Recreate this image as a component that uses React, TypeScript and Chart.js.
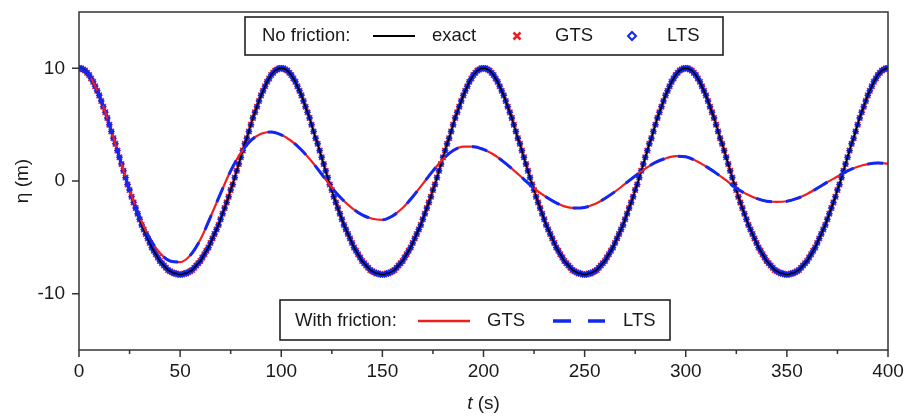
import React, { useEffect, useRef } from "react";
import { Chart, registerables } from "chart.js";

Chart.register(...registerables);

const FONT = "'Liberation Sans', Arial, Helvetica, sans-serif";
const RED = "#f01e1e";
const BLUE = "#1028f2";
const INK = "#1a1a1a";
const AXIS = "#333333";

// time (s) for the no-friction solution (exact line, GTS and LTS markers)
const timeExact = [
  0, 1, 2, 3, 4, 5, 6, 7, 8, 9, 10, 11, 12, 13, 14, 15, 16, 17, 18, 19,
  20, 21, 22, 23, 24, 25, 26, 27, 28, 29, 30, 31, 32, 33, 34, 35, 36, 37, 38, 39,
  40, 41, 42, 43, 44, 45, 46, 47, 48, 49, 50, 51, 52, 53, 54, 55, 56, 57, 58, 59,
  60, 61, 62, 63, 64, 65, 66, 67, 68, 69, 70, 71, 72, 73, 74, 75, 76, 77, 78, 79,
  80, 81, 82, 83, 84, 85, 86, 87, 88, 89, 90, 91, 92, 93, 94, 95, 96, 97, 98, 99,
  100, 101, 102, 103, 104, 105, 106, 107, 108, 109, 110, 111, 112, 113, 114, 115, 116, 117, 118, 119,
  120, 121, 122, 123, 124, 125, 126, 127, 128, 129, 130, 131, 132, 133, 134, 135, 136, 137, 138, 139,
  140, 141, 142, 143, 144, 145, 146, 147, 148, 149, 150, 151, 152, 153, 154, 155, 156, 157, 158, 159,
  160, 161, 162, 163, 164, 165, 166, 167, 168, 169, 170, 171, 172, 173, 174, 175, 176, 177, 178, 179,
  180, 181, 182, 183, 184, 185, 186, 187, 188, 189, 190, 191, 192, 193, 194, 195, 196, 197, 198, 199,
  200, 201, 202, 203, 204, 205, 206, 207, 208, 209, 210, 211, 212, 213, 214, 215, 216, 217, 218, 219,
  220, 221, 222, 223, 224, 225, 226, 227, 228, 229, 230, 231, 232, 233, 234, 235, 236, 237, 238, 239,
  240, 241, 242, 243, 244, 245, 246, 247, 248, 249, 250, 251, 252, 253, 254, 255, 256, 257, 258, 259,
  260, 261, 262, 263, 264, 265, 266, 267, 268, 269, 270, 271, 272, 273, 274, 275, 276, 277, 278, 279,
  280, 281, 282, 283, 284, 285, 286, 287, 288, 289, 290, 291, 292, 293, 294, 295, 296, 297, 298, 299,
  300, 301, 302, 303, 304, 305, 306, 307, 308, 309, 310, 311, 312, 313, 314, 315, 316, 317, 318, 319,
  320, 321, 322, 323, 324, 325, 326, 327, 328, 329, 330, 331, 332, 333, 334, 335, 336, 337, 338, 339,
  340, 341, 342, 343, 344, 345, 346, 347, 348, 349, 350, 351, 352, 353, 354, 355, 356, 357, 358, 359,
  360, 361, 362, 363, 364, 365, 366, 367, 368, 369, 370, 371, 372, 373, 374, 375, 376, 377, 378, 379,
  380, 381, 382, 383, 384, 385, 386, 387, 388, 389, 390, 391, 392, 393, 394, 395, 396, 397, 398, 399,
  400,
];

// eta (m), no friction
const etaExact = [
  10.0, 10.0, 9.9, 9.8, 9.6, 9.4, 9.1, 8.8, 8.4, 8.0, 7.6, 7.1, 6.6, 6.1, 5.6, 5.0, 4.4, 3.8, 3.3, 2.7,
  2.1, 1.5, 0.9, 0.3, -0.3, -0.8, -1.4, -1.9, -2.4, -2.9, -3.4, -3.9, -4.3, -4.7, -5.1, -5.5, -5.9, -6.2, -6.5, -6.8,
  -7.1, -7.3, -7.5, -7.7, -7.9, -8.0, -8.1, -8.2, -8.2, -8.3, -8.3, -8.3, -8.2, -8.2, -8.1, -8.0, -7.9, -7.7, -7.5, -7.3,
  -7.1, -6.8, -6.5, -6.2, -5.9, -5.5, -5.1, -4.7, -4.3, -3.9, -3.4, -2.9, -2.4, -1.9, -1.4, -0.8, -0.3, 0.3, 0.9, 1.5,
  2.1, 2.7, 3.3, 3.8, 4.4, 5.0, 5.6, 6.1, 6.6, 7.1, 7.6, 8.0, 8.4, 8.8, 9.1, 9.4, 9.6, 9.8, 9.9, 10.0,
  10.0, 10.0, 9.9, 9.8, 9.6, 9.4, 9.1, 8.8, 8.4, 8.0, 7.6, 7.1, 6.6, 6.1, 5.6, 5.0, 4.4, 3.8, 3.3, 2.7,
  2.1, 1.5, 0.9, 0.3, -0.3, -0.8, -1.4, -1.9, -2.4, -2.9, -3.4, -3.9, -4.3, -4.7, -5.1, -5.5, -5.9, -6.2, -6.5, -6.8,
  -7.1, -7.3, -7.5, -7.7, -7.9, -8.0, -8.1, -8.2, -8.2, -8.3, -8.3, -8.3, -8.2, -8.2, -8.1, -8.0, -7.9, -7.7, -7.5, -7.3,
  -7.1, -6.8, -6.5, -6.2, -5.9, -5.5, -5.1, -4.7, -4.3, -3.9, -3.4, -2.9, -2.4, -1.9, -1.4, -0.8, -0.3, 0.3, 0.9, 1.5,
  2.1, 2.7, 3.3, 3.8, 4.4, 5.0, 5.6, 6.1, 6.6, 7.1, 7.6, 8.0, 8.4, 8.8, 9.1, 9.4, 9.6, 9.8, 9.9, 10.0,
  10.0, 10.0, 9.9, 9.8, 9.6, 9.4, 9.1, 8.8, 8.4, 8.0, 7.6, 7.1, 6.6, 6.1, 5.6, 5.0, 4.4, 3.8, 3.3, 2.7,
  2.1, 1.5, 0.9, 0.3, -0.3, -0.8, -1.4, -1.9, -2.4, -2.9, -3.4, -3.9, -4.3, -4.7, -5.1, -5.5, -5.9, -6.2, -6.5, -6.8,
  -7.1, -7.3, -7.5, -7.7, -7.9, -8.0, -8.1, -8.2, -8.2, -8.3, -8.3, -8.3, -8.2, -8.2, -8.1, -8.0, -7.9, -7.7, -7.5, -7.3,
  -7.1, -6.8, -6.5, -6.2, -5.9, -5.5, -5.1, -4.7, -4.3, -3.9, -3.4, -2.9, -2.4, -1.9, -1.4, -0.8, -0.3, 0.3, 0.9, 1.5,
  2.1, 2.7, 3.3, 3.8, 4.4, 5.0, 5.6, 6.1, 6.6, 7.1, 7.6, 8.0, 8.4, 8.8, 9.1, 9.4, 9.6, 9.8, 9.9, 10.0,
  10.0, 10.0, 9.9, 9.8, 9.6, 9.4, 9.1, 8.8, 8.4, 8.0, 7.6, 7.1, 6.6, 6.1, 5.6, 5.0, 4.4, 3.8, 3.3, 2.7,
  2.1, 1.5, 0.9, 0.3, -0.3, -0.8, -1.4, -1.9, -2.4, -2.9, -3.4, -3.9, -4.3, -4.7, -5.1, -5.5, -5.9, -6.2, -6.5, -6.8,
  -7.1, -7.3, -7.5, -7.7, -7.9, -8.0, -8.1, -8.2, -8.2, -8.3, -8.3, -8.3, -8.2, -8.2, -8.1, -8.0, -7.9, -7.7, -7.5, -7.3,
  -7.1, -6.8, -6.5, -6.2, -5.9, -5.5, -5.1, -4.7, -4.3, -3.9, -3.4, -2.9, -2.4, -1.9, -1.4, -0.8, -0.3, 0.3, 0.9, 1.5,
  2.1, 2.7, 3.3, 3.8, 4.4, 5.0, 5.6, 6.1, 6.6, 7.1, 7.6, 8.0, 8.4, 8.8, 9.1, 9.4, 9.6, 9.8, 9.9, 10.0,
  10.0,
];

// time (s) for the with-friction solution
const timeFriction = [
  0, 5, 10, 15, 20, 25, 30, 35, 40, 45, 50, 55, 60, 65, 70, 75, 80, 85, 90, 95,
  100, 105, 110, 115, 120, 125, 130, 135, 140, 145, 150, 155, 160, 165, 170, 175, 180, 185, 190, 195,
  200, 205, 210, 215, 220, 225, 230, 235, 240, 245, 250, 255, 260, 265, 270, 275, 280, 285, 290, 295,
  300, 305, 310, 315, 320, 325, 330, 335, 340, 345, 350, 355, 360, 365, 370, 375, 380, 385, 390, 395,
  400,
];

// eta (m), with friction, GTS
const etaFrictionGTS = [
  10.0, 9.4, 7.6, 5.0, 2.1, -0.8, -3.2, -5.1, -6.4, -7.1, -7.2, -6.6, -5.2, -3.2, -1.1, 0.9, 2.5, 3.6, 4.2, 4.35,
  4.1, 3.55, 2.75, 1.75, 0.6, -0.6, -1.6, -2.4, -3.0, -3.35, -3.45, -3.1, -2.4, -1.4, -0.25, 0.9, 1.95, 2.7, 3.05, 3.05,
  2.8, 2.35, 1.7, 0.95, 0.15, -0.65, -1.3, -1.85, -2.25, -2.4, -2.35, -2.05, -1.55, -0.95, -0.25, 0.45, 1.1, 1.65, 2.0, 2.2,
  2.15, 1.8, 1.3, 0.7, 0.05, -0.65, -1.15, -1.55, -1.8, -1.86, -1.8, -1.55, -1.15, -0.65, -0.1, 0.4, 0.9, 1.27, 1.5, 1.6,
  1.55,
];

// eta (m), with friction, LTS
const etaFrictionLTS = [
  10.0, 9.4, 7.6, 5.0, 2.1, -0.8, -3.2, -5.1, -6.4, -7.1, -7.2, -6.6, -5.2, -3.2, -1.1, 0.9, 2.5, 3.6, 4.2, 4.35,
  4.1, 3.55, 2.75, 1.75, 0.6, -0.6, -1.6, -2.4, -3.0, -3.35, -3.45, -3.1, -2.4, -1.4, -0.25, 0.9, 1.95, 2.7, 3.05, 3.05,
  2.8, 2.35, 1.7, 0.95, 0.15, -0.65, -1.3, -1.85, -2.25, -2.4, -2.35, -2.05, -1.55, -0.95, -0.25, 0.45, 1.1, 1.65, 2.0, 2.2,
  2.15, 1.8, 1.3, 0.7, 0.05, -0.65, -1.15, -1.55, -1.8, -1.86, -1.8, -1.55, -1.15, -0.65, -0.1, 0.4, 0.9, 1.27, 1.5, 1.6,
  1.55,
];

const xMajorTicks = [0, 50, 100, 150, 200, 250, 300, 350, 400];
const xMinorTicks = [25, 75, 125, 175, 225, 275, 325, 375];
const yMajorTicks = [-10, 0, 10];

const topLegendLabels = ["No friction:", "exact", "GTS", "LTS"];
const bottomLegendLabels = ["With friction:", "GTS", "LTS"];

const toPoints = (xs: number[], ys: number[]) => xs.map((x, i) => ({ x, y: ys[i] }));

const decorPlugin = {
  id: "decor",
  afterDraw(chart: any) {
    const { ctx, chartArea: a, scales } = chart;
    const xs = scales.x;
    const ys = scales.y;
    ctx.save();

    // frame
    ctx.strokeStyle = AXIS;
    ctx.lineWidth = 1.5;
    ctx.strokeRect(a.left, a.top, a.right - a.left, a.bottom - a.top);

    // tick marks
    ctx.beginPath();
    for (const v of xMajorTicks) {
      const px = xs.getPixelForValue(v);
      ctx.moveTo(px, a.bottom);
      ctx.lineTo(px, a.bottom + 7);
    }
    for (const v of xMinorTicks) {
      const px = xs.getPixelForValue(v);
      ctx.moveTo(px, a.bottom);
      ctx.lineTo(px, a.bottom + 4);
    }
    for (const v of yMajorTicks) {
      const py = ys.getPixelForValue(v);
      ctx.moveTo(a.left - 7, py);
      ctx.lineTo(a.left, py);
    }
    ctx.stroke();

    // axis titles
    ctx.fillStyle = INK;
    ctx.textBaseline = "middle";
    ctx.font = `19px ${FONT}`;
    ctx.save();
    ctx.translate(23, (a.top + a.bottom) / 2);
    ctx.rotate(-Math.PI / 2);
    ctx.textAlign = "center";
    ctx.fillText("η (m)", 0, 0);
    ctx.restore();

    ctx.textAlign = "left";
    const italic = `italic 19px ${FONT}`;
    const normal = `19px ${FONT}`;
    ctx.font = italic;
    const wT = ctx.measureText("t").width;
    ctx.font = normal;
    const wS = ctx.measureText(" (s)").width;
    const cx = (a.left + a.right) / 2;
    const startX = cx - (wT + wS) / 2;
    ctx.font = italic;
    ctx.fillText("t", startX, 404);
    ctx.font = normal;
    ctx.fillText(" (s)", startX + wT, 404);

    // top legend
    ctx.font = `18.5px ${FONT}`;
    ctx.fillStyle = "#ffffff";
    ctx.fillRect(245, 17, 478, 38);
    ctx.strokeStyle = "#222";
    ctx.lineWidth = 1.6;
    ctx.strokeRect(245, 17, 478, 38);
    ctx.fillStyle = INK;
    const ty = 36;
    ctx.fillText(topLegendLabels[0], 262, ty);
    ctx.strokeStyle = "#000";
    ctx.lineWidth = 2;
    ctx.beginPath();
    ctx.moveTo(373, ty);
    ctx.lineTo(415, ty);
    ctx.stroke();
    ctx.fillText(topLegendLabels[1], 432, ty);
    ctx.strokeStyle = RED;
    ctx.lineWidth = 2.5;
    ctx.beginPath();
    ctx.moveTo(513.5, ty - 3.5);
    ctx.lineTo(520.5, ty + 3.5);
    ctx.moveTo(520.5, ty - 3.5);
    ctx.lineTo(513.5, ty + 3.5);
    ctx.stroke();
    ctx.fillText(topLegendLabels[2], 555, ty);
    ctx.strokeStyle = BLUE;
    ctx.lineWidth = 2;
    ctx.fillStyle = "#fff";
    ctx.beginPath();
    ctx.moveTo(632, ty - 4);
    ctx.lineTo(636, ty);
    ctx.lineTo(632, ty + 4);
    ctx.lineTo(628, ty);
    ctx.closePath();
    ctx.fill();
    ctx.stroke();
    ctx.fillStyle = INK;
    ctx.fillText(topLegendLabels[3], 667, ty);

    // bottom legend
    ctx.fillStyle = "#ffffff";
    ctx.fillRect(280, 300, 390, 40);
    ctx.strokeStyle = "#222";
    ctx.lineWidth = 1.6;
    ctx.strokeRect(280, 300, 390, 40);
    ctx.fillStyle = INK;
    const by = 321;
    ctx.fillText(bottomLegendLabels[0], 295, by);
    ctx.strokeStyle = RED;
    ctx.lineWidth = 2.5;
    ctx.beginPath();
    ctx.moveTo(418, by);
    ctx.lineTo(470, by);
    ctx.stroke();
    ctx.fillText(bottomLegendLabels[1], 487, by);
    ctx.strokeStyle = BLUE;
    ctx.lineWidth = 3.5;
    ctx.beginPath();
    ctx.moveTo(553, by);
    ctx.lineTo(571, by);
    ctx.moveTo(588, by);
    ctx.lineTo(605, by);
    ctx.stroke();
    ctx.fillText(bottomLegendLabels[2], 623, by);

    ctx.restore();
  },
};

export default function App() {
  const canvasRef = useRef<HTMLCanvasElement | null>(null);

  useEffect(() => {
    if (!canvasRef.current) return;
    const chart = new Chart(canvasRef.current, {
      type: "line",
      data: {
        datasets: [
          {
            label: "LTS (with friction)",
            data: toPoints(timeFriction, etaFrictionLTS),
            borderColor: BLUE,
            borderWidth: 3,
            borderDash: [16, 14],
            pointRadius: 0,
            cubicInterpolationMode: "monotone",
            order: 1,
          },
          {
            label: "GTS (with friction)",
            data: toPoints(timeFriction, etaFrictionGTS),
            borderColor: RED,
            borderWidth: 2.2,
            pointRadius: 0,
            cubicInterpolationMode: "monotone",
            order: 2,
          },
          {
            label: "exact",
            data: toPoints(timeExact, etaExact),
            borderColor: "#000000",
            borderWidth: 1.6,
            pointRadius: 0,
            cubicInterpolationMode: "monotone",
            order: 3,
          },
          {
            label: "LTS (no friction)",
            data: toPoints(timeExact, etaExact),
            showLine: false,
            pointStyle: "rectRot",
            pointRadius: 2.6,
            borderWidth: 1.4,
            borderColor: BLUE,
            backgroundColor: BLUE,
            order: 4,
          },
          {
            label: "GTS (no friction)",
            data: toPoints(timeExact, etaExact),
            showLine: false,
            pointStyle: "crossRot",
            pointRadius: 3.8,
            borderWidth: 1.6,
            borderColor: RED,
            backgroundColor: RED,
            order: 5,
          },
        ],
      },
      options: {
        animation: false,
        responsive: true,
        maintainAspectRatio: false,
        devicePixelRatio: 1,
        layout: { padding: { left: 0, top: 12, right: 18, bottom: 0 } },
        plugins: {
          legend: { display: false },
          tooltip: { enabled: false },
        },
        scales: {
          x: {
            type: "linear",
            min: 0,
            max: 400,
            grid: { display: false, drawTicks: false },
            border: { display: false },
            afterBuildTicks: (s: any) => {
              s.ticks = xMajorTicks.map((v) => ({ value: v }));
            },
            afterFit: (s: any) => {
              s.height = 67;
              s.paddingLeft = 0;
              s.paddingRight = 0;
            },
            ticks: {
              padding: 10,
              maxRotation: 0,
              color: INK,
              font: { family: FONT, size: 19 },
            },
          },
          y: {
            type: "linear",
            min: -15,
            max: 15,
            grid: { display: false, drawTicks: false },
            border: { display: false },
            afterBuildTicks: (s: any) => {
              s.ticks = yMajorTicks.map((v) => ({ value: v }));
            },
            afterFit: (s: any) => {
              s.width = 79;
              s.paddingTop = 0;
              s.paddingBottom = 0;
            },
            ticks: {
              padding: 14,
              color: INK,
              font: { family: FONT, size: 19 },
            },
          },
        },
      },
      plugins: [decorPlugin],
    });
    return () => chart.destroy();
  }, []);

  return (
    <div style={{ position: "fixed", left: 0, top: 0, width: 906, height: 417, background: "#fff" }}>
      <canvas ref={canvasRef} />
    </div>
  );
}
